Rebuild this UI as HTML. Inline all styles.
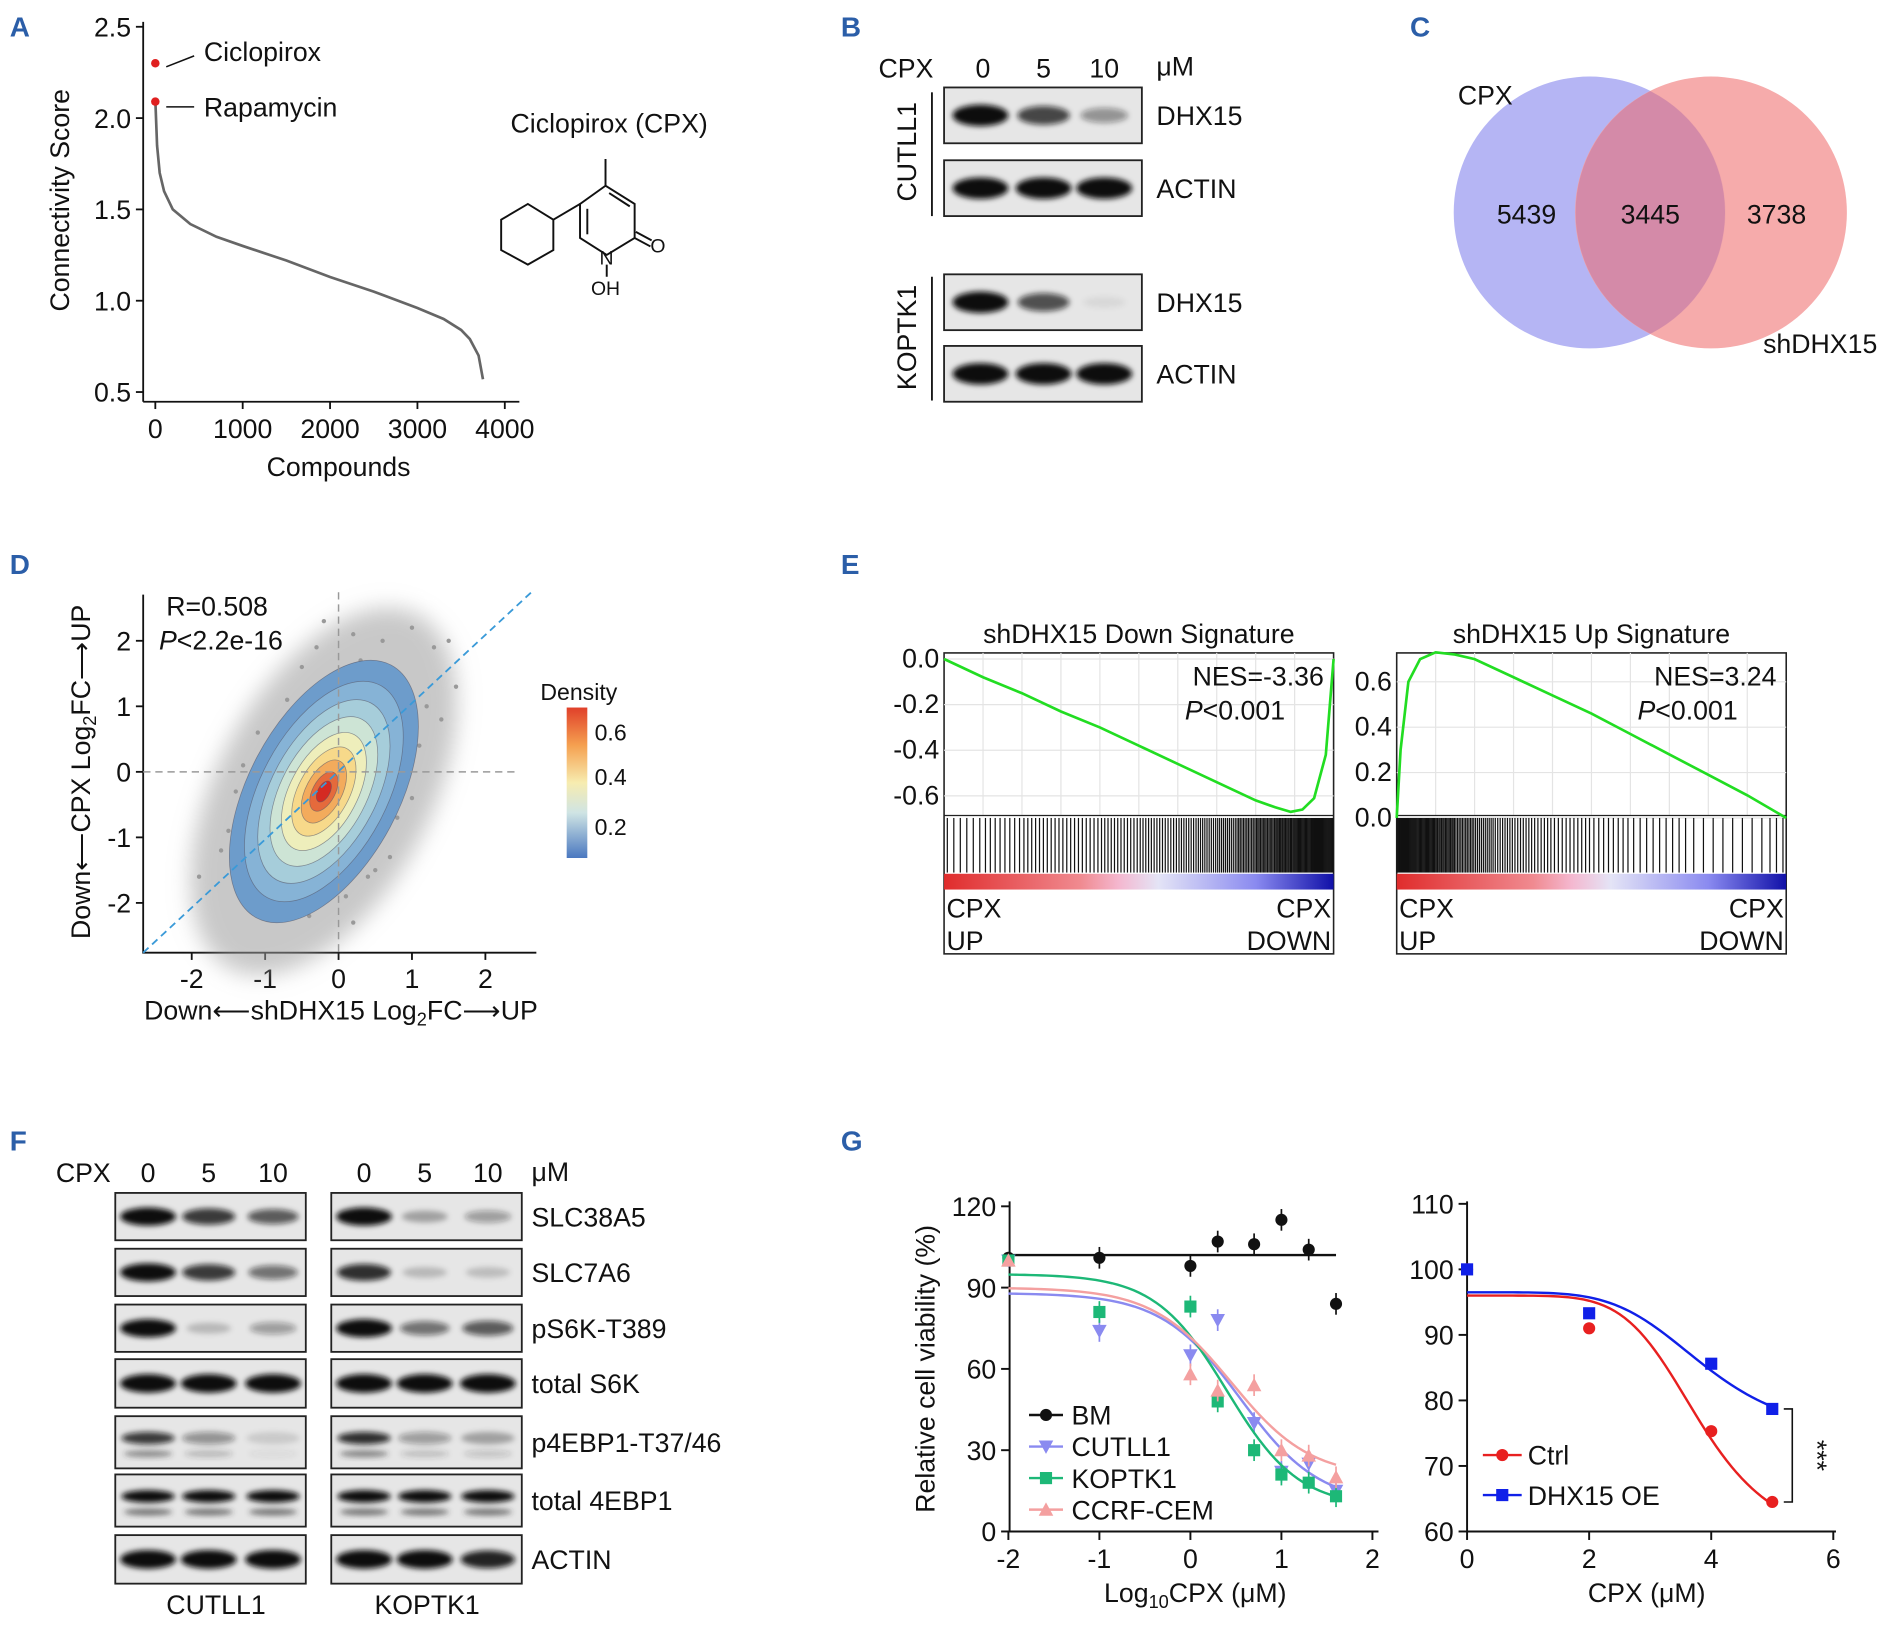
<!DOCTYPE html>
<html><head><meta charset="utf-8"><style>
html,body{margin:0;padding:0;background:#fff;width:1893px;height:1625px;overflow:hidden}
svg{display:block;font-family:"Liberation Sans",Arial,sans-serif}
.t{font-size:22px;fill:#111}
.pl{font-size:23px;font-weight:bold;fill:#2b5ea8}
</style></head><body>
<svg id="fig" width="1893" height="1625" viewBox="0 0 1560 1339" xmlns="http://www.w3.org/2000/svg">
<defs>
<filter id="blur" x="-50%" y="-50%" width="200%" height="200%"><feGaussianBlur stdDeviation="2.2"/></filter>
<filter id="blur2" x="-50%" y="-50%" width="200%" height="200%"><feGaussianBlur stdDeviation="9"/></filter>
<linearGradient id="rank" x1="0" x2="1"><stop offset="0" stop-color="#e02c2c"/><stop offset=".35" stop-color="#f08a90"/><stop offset=".45" stop-color="#f4b8d0"/><stop offset=".55" stop-color="#e4e4f6"/><stop offset=".8" stop-color="#8a8af0"/><stop offset="1" stop-color="#1010a8"/></linearGradient>
<linearGradient id="dens" x1="0" y1="0" x2="0" y2="1"><stop offset="0" stop-color="#e0402a"/><stop offset=".25" stop-color="#f5a050"/><stop offset=".5" stop-color="#f7ecb0"/><stop offset=".7" stop-color="#cfe4e4"/><stop offset="1" stop-color="#4a78c0"/></linearGradient>
</defs>

<!-- panel letters -->
<text class="pl" x="8" y="30">A</text>
<text class="pl" x="693" y="30">B</text>
<text class="pl" x="1162" y="30">C</text>
<text class="pl" x="8" y="473">D</text>
<text class="pl" x="693" y="473">E</text>
<text class="pl" x="8" y="948">F</text>
<text class="pl" x="693" y="948">G</text>

<!-- Panel A static -->
<g id="pa"></g>
<text class="t" x="57" y="165" transform="rotate(-90 57 165)" text-anchor="middle">Connectivity Score</text>
<text class="t" x="279" y="392" text-anchor="middle">Compounds</text>
<text class="t" x="168" y="50">Ciclopirox</text>
<text class="t" x="168" y="96">Rapamycin</text>
<line x1="137" y1="55" x2="160" y2="46" stroke="#111" stroke-width="1.3"/>
<line x1="137" y1="88" x2="160" y2="88" stroke="#111" stroke-width="1.3"/>
<text class="t" x="502" y="109" text-anchor="middle">Ciclopirox (CPX)</text>
<g stroke="#111" stroke-width="1.6" fill="none">
<polyline points="499,131 499,153 523,168 523,196 500,210 478,196 478,168 499,153"/>
<line x1="484" y1="172" x2="484" y2="193"/><line x1="502" y1="159" x2="519" y2="170"/>
<line x1="523" y1="196" x2="536" y2="203"/><line x1="524" y1="191" x2="537" y2="198"/>
<line x1="500" y1="218" x2="500" y2="228"/>
<line x1="478" y1="168" x2="456" y2="181"/>
<polygon points="456,181 456,206 435,218 413,206 413,181 435,168"/>
</g>
<text x="536" y="208" font-size="16" fill="#111">O</text>
<text x="494" y="218" font-size="16" fill="#111">N</text>
<text x="487" y="243" font-size="16" fill="#111">OH</text>

<!-- Panel B static -->
<text class="t" x="724" y="64">CPX</text>
<text class="t" x="810" y="64" text-anchor="middle">0</text>
<text class="t" x="860" y="64" text-anchor="middle">5</text>
<text class="t" x="910" y="64" text-anchor="middle">10</text>
<text class="t" x="953" y="62">μM</text>
<line x1="768" y1="76" x2="768" y2="178" stroke="#111" stroke-width="1.5"/>
<line x1="768" y1="228" x2="768" y2="330" stroke="#111" stroke-width="1.5"/>
<text class="t" x="755" y="125" transform="rotate(-90 755 125)" text-anchor="middle">CUTLL1</text>
<text class="t" x="755" y="278" transform="rotate(-90 755 278)" text-anchor="middle">KOPTK1</text>
<g id="pb"></g>

<!-- Panel C -->
<g>
<circle cx="1310" cy="175" r="112" fill="#b5b5f4"/>
<circle cx="1410" cy="175" r="112" fill="#f5a2a2" fill-opacity="0.9"/>
<path d="M1360,75 A112,112 0 0 1 1360,275 A112,112 0 0 1 1360,75Z" fill="#d48aa8"/>
<text class="t" x="1258" y="184" text-anchor="middle">5439</text>
<text class="t" x="1360" y="184" text-anchor="middle">3445</text>
<text class="t" x="1464" y="184" text-anchor="middle">3738</text>
<text class="t" x="1224" y="86" text-anchor="middle">CPX</text>
<text class="t" x="1500" y="291" text-anchor="middle">shDHX15</text>
</g>

<!-- Panel D -->
<g id="pd"></g>
<text class="t" x="137" y="507">R=0.508</text>
<text class="t" x="131" y="535"><tspan font-style="italic">P</tspan>&lt;2.2e-16</text>
<text class="t" x="74" y="636" transform="rotate(-90 74 636)" text-anchor="middle">Down⟵CPX Log<tspan font-size="15" dy="5">2</tspan><tspan dy="-5">FC⟶UP</tspan></text>
<text class="t" x="281" y="840" text-anchor="middle">Down⟵shDHX15 Log<tspan font-size="15" dy="5">2</tspan><tspan dy="-5">FC⟶UP</tspan></text>
<text x="477" y="577" font-size="19" fill="#111" text-anchor="middle">Density</text>
<rect x="467" y="583" width="17" height="124" fill="url(#dens)"/>
<text x="490" y="610" font-size="19" fill="#111">0.6</text>
<text x="490" y="647" font-size="19" fill="#111">0.4</text>
<text x="490" y="688" font-size="19" fill="#111">0.2</text>

<!-- Panel E -->
<g id="pe"></g>

<!-- Panel F -->
<text class="t" x="46" y="974">CPX</text>
<g id="pf"></g>
<text class="t" x="178" y="1330" text-anchor="middle">CUTLL1</text>
<text class="t" x="352" y="1330" text-anchor="middle">KOPTK1</text>
<text class="t" x="438" y="973">μM</text>

<!-- Panel G -->
<g id="pg1"></g>
<g id="pg2"></g>
<text class="t" x="770" y="1128" transform="rotate(-90 770 1128)" text-anchor="middle">Relative cell viability (%)</text>
<text class="t" x="985" y="1320" text-anchor="middle">Log<tspan font-size="15" dy="5">10</tspan><tspan dy="-5">CPX (μM)</tspan></text>
<text class="t" x="1357" y="1320" text-anchor="middle">CPX (μM)</text>
</svg>
<script>
const NS='http://www.w3.org/2000/svg';
function mk(parent,tag,attrs,name,inter){const e=document.createElementNS(NS,tag);for(const k in attrs)e.setAttribute(k,attrs[k]);


parent.appendChild(e);return e;}
function txt(parent,x,y,s,name,anchor,size){const e=mk(parent,'text',{x:x,y:y,'font-size':size||22,fill:'#111','text-anchor':anchor||'middle'},name,false);e.textContent=s;return e;}

// ===== Panel A data =====
const aRanks=[0,20,50,100,200,400,700,1000,1500,2000,2500,3000,3300,3500,3600,3700,3750];
const aScores=[2.1,1.85,1.7,1.6,1.5,1.42,1.35,1.3,1.22,1.13,1.05,0.96,0.9,0.84,0.79,0.7,0.57];
const aHits=[['ciclopirox',2.3],['rapamycin',2.09]];
const aYTicks=[0.5,1.0,1.5,2.0,2.5];
const aXTicks=[0,1000,2000,3000,4000];
(function(){const g=document.getElementById('pa');
const X=v=>128+v*(288/4000), Y=v=>323-(v-0.5)*150.5;
mk(g,'line',{x1:118,y1:18,x2:118,y2:331,stroke:'#111','stroke-width':1.5},'a-y-axis',false);
mk(g,'line',{x1:118,y1:331,x2:428,y2:331,stroke:'#111','stroke-width':1.5},'a-x-axis',false);
aYTicks.forEach(v=>{mk(g,'line',{x1:112,y1:Y(v),x2:118,y2:Y(v),stroke:'#111','stroke-width':1.5},'a-y-tick',false);txt(g,108,Y(v)+8,v.toFixed(1),'a-y-tick-label','end');});
aXTicks.forEach(v=>{mk(g,'line',{x1:X(v),y1:331,x2:X(v),y2:337,stroke:'#111','stroke-width':1.5},'a-x-tick',false);txt(g,X(v),361,String(v),'a-x-tick-label');});
mk(g,'polyline',{points:aRanks.map((r,i)=>X(r)+','+Y(aScores[i])).join(' '),fill:'none',stroke:'#666','stroke-width':2.2},'a-score-curve',false);
aHits.forEach(h=>mk(g,'circle',{cx:X(0),cy:Y(h[1]),r:3.5,fill:'#e02020'},'a-hit-'+h[0],false));
})();

// ===== Blot helper =====
function blot(g,x,w,y,h,lanes,ints,name,doublet){
 mk(g,'rect',{x:x,y:y,width:w,height:h,fill:'#e6e6e6',stroke:'#222','stroke-width':1.5},name+'-membrane',false);
 lanes.forEach((cx,i)=>{const v=ints[i];if(v<=0.02)return;
  if(doublet){
   mk(g,'ellipse',{cx:cx,cy:y+h*0.42,rx:22,ry:h*0.12,fill:'#111','fill-opacity':v,filter:'url(#blur)'},name+'-band',false);
   mk(g,'ellipse',{cx:cx,cy:y+h*0.72,rx:20,ry:h*0.07,fill:'#333','fill-opacity':v*0.6,filter:'url(#blur)'},name+'-band-lower',false);
  } else mk(g,'ellipse',{cx:cx,cy:y+h/2,rx:23*(0.75+0.25*v),ry:h*0.16*(0.6+0.6*v),fill:'#111','fill-opacity':Math.min(1,v),filter:'url(#blur)'},name+'-band',false);
 });
}
// ===== Panel B =====
const bRows=['DHX15','ACTIN','DHX15','ACTIN'];
const bTop=[72,132,226,285];
const bInt=[[1,0.75,0.4],[1,1,1],[1,0.7,0.06],[1,1,1]];
(function(){const g=document.getElementById('pb');
bRows.forEach((r,i)=>{blot(g,778,163,bTop[i],46,[808,860,910],bInt[i],'b-'+r.toLowerCase()+'-'+i);
 txt(g,953,bTop[i]+31,r,'b-row-label','start');});})();

// ===== Panel F =====
const fRows=['SLC38A5','SLC7A6','pS6K-T389','total S6K','p4EBP1-T37/46','total 4EBP1','ACTIN'];
const fTop=[983,1029,1075,1120,1167,1215,1265];
const fH=[39,39,39,40,43,43,40];
const fLeft=[[1,0.8,0.65],[1,0.8,0.55],[1,0.2,0.35],[1,1,1],[0.8,0.4,0.12],[1,1,1],[1,1,1]];
const fRight=[[1,0.3,0.35],[0.85,0.2,0.18],[1,0.55,0.65],[1,1,1],[0.85,0.35,0.3],[1,1,1],[1,1,0.9]];
const fDoses=['0','5','10'];
(function(){const g=document.getElementById('pf');
const L=[122,172,225],R=[300,350,402];
fDoses.forEach((d,i)=>{txt(g,L[i],974,d,'f-dose-left');txt(g,R[i],974,d,'f-dose-right');});
fRows.forEach((r,i)=>{const db=r==='total 4EBP1'||r.startsWith('p4EBP1');
 blot(g,95,157,fTop[i],fH[i],L,fLeft[i],'f-cutll1-'+i,db);
 blot(g,273,157,fTop[i],fH[i],R,fRight[i],'f-koptk1-'+i,db);
 txt(g,438,fTop[i]+fH[i]/2+8,r,'f-row-label','start');});})();

// ===== Panel D =====
const dPtsX=[-1.9,-1.6,-1.4,-1.2,-1.1,-0.9,-0.8,-0.7,-0.6,-0.5,-0.4,-0.3,-0.2,0,0.1,0.2,0.3,0.4,0.5,0.6,0.7,0.8,0.9,1.0,1.2,1.4,1.6,-1.3,-1.0,-0.8,-0.6,0.2,0.5,0.8,1.1,-0.5,0.0,0.4,0.9,1.5,-1.5,-0.9,0.7,1.3,-0.2,0.3,0.6,-0.7,1.0,-1.1];
const dPtsY=[-1.6,-1.2,-0.3,-1.5,0.6,-2.0,0.2,1.1,-1.8,1.6,-2.2,1.9,2.3,1.5,-1.9,2.1,1.7,-1.6,1.2,2.0,-1.3,1.4,0.9,2.2,1.0,0.8,1.3,0.1,-0.5,-1.2,0.9,-2.3,-1.5,-0.7,0.4,-0.9,-1.4,-0.8,-0.2,2.0,-0.9,0.4,0.2,1.9,0.6,-0.3,0.5,-0.5,-0.4,-1.0];
const dTicks=[-2,-1,0,1,2];
const dLevels=[1,0.84,0.7,0.57,0.45,0.34,0.24,0.15,0.08];
const dColors=['#6d9ccb','#86b3d6','#a6cdda','#cde4d5','#eeeebb','#f7d98a','#f3ab5c','#e56a3c','#d52a22'];
(function(){const g=document.getElementById('pd');
const X=v=>279+v*60.5, Y=v=>636-v*54;
mk(g,'polyline',{points:'118,490 118,785 442,785',fill:'none',stroke:'#111','stroke-width':1.5},'d-axes',false);
dTicks.forEach(v=>{mk(g,'line',{x1:X(v),y1:785,x2:X(v),y2:791,stroke:'#111','stroke-width':1.5},'d-x-tick',false);txt(g,X(v),814,String(v),'d-x-tick-label');
 mk(g,'line',{x1:112,y1:Y(v),x2:118,y2:Y(v),stroke:'#111','stroke-width':1.5},'d-y-tick',false);txt(g,108,Y(v)+8,String(v),'d-y-tick-label','end');});
const cx=X(-0.2),cy=Y(-0.3);
mk(g,'ellipse',{cx:cx,cy:cy,rx:165,ry:88,fill:'#9a9a9a','fill-opacity':0.55,transform:`rotate(-62 ${cx} ${cy})`,filter:'url(#blur2)'},'d-point-cloud',false);
dPtsX.forEach((x,i)=>mk(g,'circle',{cx:X(x),cy:Y(dPtsY[i]),r:1.8,fill:'#999'},'d-point',false));
dLevels.forEach((s,i)=>mk(g,'ellipse',{cx:cx,cy:cy,rx:118*s,ry:62*s,fill:dColors[i],stroke:'#556','stroke-width':0.6,'stroke-opacity':0.6,transform:`rotate(-62 ${cx} ${cy})`},'d-density-contour',false));
mk(g,'line',{x1:X(0),y1:488,x2:X(0),y2:785,stroke:'#999','stroke-dasharray':'6,4','stroke-width':1.2},'d-x-zero-line',false);
mk(g,'line',{x1:118,y1:Y(0),x2:425,y2:Y(0),stroke:'#999','stroke-dasharray':'6,4','stroke-width':1.2},'d-y-zero-line',false);
mk(g,'line',{x1:118,y1:785,x2:440,y2:486,stroke:'#3a9ad8','stroke-dasharray':'6,4','stroke-width':1.5},'d-identity-line',false);
})();

// ===== Panel E =====
const eDownX=[0,0.05,0.1,0.2,0.3,0.4,0.5,0.6,0.7,0.75,0.8,0.85,0.89,0.92,0.95,0.98,1];
const eDownY=[0,-0.04,-0.08,-0.15,-0.23,-0.3,-0.38,-0.46,-0.54,-0.58,-0.62,-0.65,-0.67,-0.66,-0.61,-0.42,0];
const eUpX=[0,0.01,0.03,0.06,0.1,0.15,0.2,0.3,0.4,0.5,0.6,0.7,0.8,0.9,1];
const eUpY=[0,0.3,0.6,0.7,0.73,0.72,0.7,0.62,0.54,0.46,0.37,0.28,0.19,0.1,0];
const eDownHits=[3,3,4,4,5,5,5,5,6,6,7,7,8,9,10,12,14,16,18,20];
const eUpHits=[20,18,15,12,10,8,7,6,5,5,4,4,3,3,3,2,2,2,2,3];
const eDownTicks=[0,-0.2,-0.4,-0.6];
const eUpTicks=[0,0.2,0.4,0.6];
function gsea(g,x0,x1,topY,zeroY,per02,xs,ys,hits,ticks,title,nes,key){
 const w=x1-x0, X=f=>x0+f*w, Y=v=>zeroY-v/0.2*per02;
 mk(g,'rect',{x:x0,y:topY,width:w,height:786-topY,fill:'none',stroke:'#222','stroke-width':1.3},key+'-frame',false);
 for(let i=1;i<10;i++)mk(g,'line',{x1:X(i/10),y1:topY,x2:X(i/10),y2:672,stroke:'#e4e4e4'},key+'-grid-v',false);
 ticks.forEach(v=>{mk(g,'line',{x1:x0,y1:Y(v),x2:x1,y2:Y(v),stroke:'#e4e4e4'},key+'-grid-h',false);
  txt(g,x0-4,Y(v)+7,v.toFixed(1),key+'-y-tick-label','end');});
 mk(g,'line',{x1:x0,y1:672,x2:x1,y2:672,stroke:'#222','stroke-width':1},key+'-plot-divider',false);
 mk(g,'polyline',{points:xs.map((f,i)=>X(f)+','+Y(ys[i])).join(' '),fill:'none',stroke:'#22dd22','stroke-width':2.2},key+'-es-curve',false);
 const n=hits.length;
 hits.forEach((c,b)=>{for(let j=0;j<c;j++){const f=(b+(j+0.5)/c)/n;
  mk(g,'line',{x1:X(f),y1:674,x2:X(f),y2:719,stroke:'#111','stroke-width':1},key+'-hit-line',false);}});
 mk(g,'rect',{x:x0,y:720,width:w,height:13,fill:'url(#rank)'},key+'-rank-colorbar',false);
 txt(g,(x0+x1)/2,530,title,key+'-title');
 txt(g,x1-8,565,nes,key+'-nes','end');
 const p=txt(g,x1-40,593,'',key+'-p','end');p.innerHTML='<tspan font-style="italic">P</tspan>&lt;0.001';
 txt(g,x0+2,756,'CPX',key+'-left-label','start');txt(g,x0+2,783,'UP',key+'-left-label-2','start');
 txt(g,x1-2,756,'CPX',key+'-right-label','end');txt(g,x1-2,783,'DOWN',key+'-right-label-2','end');
}
(function(){const g=document.getElementById('pe');
gsea(g,778,1099,538,543,37.6,eDownX,eDownY,eDownHits,eDownTicks,'shDHX15 Down Signature','NES=-3.36','e-down');
gsea(g,1151,1472,538,674,37.4,eUpX,eUpY,eUpHits,eUpTicks,'shDHX15 Up Signature','NES=3.24','e-up');
})();

// ===== Panel G left =====
const gDoses=[-2,-1,0,0.3,0.7,1,1.3,1.6];
const gBM=[101,101,98,107,106,115,104,84];
const gCUT=[100,74,65,78,40,22,25,15];
const gKOP=[100,81,83,48,30,21,18,13];
const gCEM=[100,null,58,52,54,30,28,20];
const gFit={BM:[102,102,0,1],CUTLL1:[88,10,0.55,1.0],KOPTK1:[95,9,0.4,1.1],CEM:[90,20,0.45,1.0]};
const gXTicks=[-2,-1,0,1,2];
const gYTicks=[0,30,60,90,120];
function marker(g,shape,x,y,c,name){
 if(shape==='circle')mk(g,'circle',{cx:x,cy:y,r:5,fill:c},name,false);
 else if(shape==='square')mk(g,'rect',{x:x-5,y:y-5,width:10,height:10,fill:c},name,false);
 else if(shape==='down')mk(g,'polygon',{points:`${x-6},${y-5} ${x+6},${y-5} ${x},${y+6}`,fill:c},name,false);
 else mk(g,'polygon',{points:`${x-6},${y+5} ${x+6},${y+5} ${x},${y-6}`,fill:c},name,false);
}
(function(){const g=document.getElementById('pg1');
const X=v=>981+v*75, Y=v=>1262-v*2.233;
mk(g,'polyline',{points:'832,990 832,1262 1136,1262',fill:'none',stroke:'#111','stroke-width':1.6},'g1-axes',false);
gXTicks.forEach(v=>{mk(g,'line',{x1:X(v),y1:1262,x2:X(v),y2:1269,stroke:'#111','stroke-width':1.6},'g1-x-tick',false);txt(g,X(v),1292,String(v),'g1-x-tick-label');});
gYTicks.forEach(v=>{mk(g,'line',{x1:825,y1:Y(v),x2:832,y2:Y(v),stroke:'#111','stroke-width':1.6},'g1-y-tick',false);txt(g,821,Y(v)+8,String(v),'g1-y-tick-label','end');});
const series=[['BM',gBM,'#111','circle',gFit.BM],['CUTLL1',gCUT,'#8a8af0','down',gFit.CUTLL1],['KOPTK1',gKOP,'#1db877','square',gFit.KOPTK1],['CCRF-CEM',gCEM,'#f4a0a0','up',gFit.CEM]];
series.forEach(([n,vals,c,sh,f],si)=>{
 const pts=[];for(let i=0;i<=60;i++){const x=-2+3.6*i/60;const y=f[1]+(f[0]-f[1])/(1+Math.pow(10,(x-f[2])*f[3]));pts.push(X(x)+','+Y(y));}
 mk(g,'polyline',{points:pts.join(' '),fill:'none',stroke:c,'stroke-width':2},'g1-fit-'+n,false);
 vals.forEach((v,i)=>{if(v==null)return;
  if(i>0){mk(g,'line',{x1:X(gDoses[i]),y1:Y(v-4),x2:X(gDoses[i]),y2:Y(v+4),stroke:c,'stroke-width':1.4},'g1-errorbar-'+n,false);}
  marker(g,sh,X(gDoses[i]),Y(v),c,'g1-point-'+n);});
 const ly=1166+si*26;
 mk(g,'line',{x1:848,y1:ly,x2:876,y2:ly,stroke:c,'stroke-width':2},'g1-legend-line-'+n,false);
 marker(g,sh,862,ly,c,'g1-legend-marker-'+n);
 txt(g,883,ly+8,n,'g1-legend-label','start');
});})();

// ===== Panel G right =====
const g2Doses=[0,2,4,5];
const g2Ctrl=[100,91,75.3,64.5];
const g2OE=[100,93.3,85.6,78.7];
const g2FitCtrl=[96,58,3.8,6];
const g2FitOE=[96.5,74,3.9,5];
const g2XTicks=[0,2,4,6];
const g2YTicks=[60,70,80,90,100,110];
(function(){const g=document.getElementById('pg2');
const X=v=>1209+v*50.3, Y=v=>1262-(v-60)*5.4;
mk(g,'polyline',{points:'1209,990 1209,1262 1513,1262',fill:'none',stroke:'#111','stroke-width':1.6},'g2-axes',false);
g2XTicks.forEach(v=>{mk(g,'line',{x1:X(v),y1:1262,x2:X(v),y2:1269,stroke:'#111','stroke-width':1.6},'g2-x-tick',false);txt(g,X(v),1292,String(v),'g2-x-tick-label');});
g2YTicks.forEach(v=>{mk(g,'line',{x1:1202,y1:Y(v),x2:1209,y2:Y(v),stroke:'#111','stroke-width':1.6},'g2-y-tick',false);txt(g,1198,Y(v)+8,String(v),'g2-y-tick-label','end');});
[['Ctrl',g2Ctrl,g2FitCtrl,'#e82020','circle'],['DHX15 OE',g2OE,g2FitOE,'#1020e8','square']].forEach(([n,vals,f,c,sh],si)=>{
 const pts=[];for(let i=0;i<=60;i++){const x=5*i/60;const y=x===0?f[0]:f[1]+(f[0]-f[1])/(1+Math.pow(x/f[2],f[3]));pts.push(X(x)+','+Y(y));}
 mk(g,'polyline',{points:pts.join(' '),fill:'none',stroke:c,'stroke-width':2},'g2-fit-'+n,false);
 vals.forEach((v,i)=>marker(g,sh,X(g2Doses[i]),Y(v),c,'g2-point-'+n));
 const ly=1199+si*33;
 mk(g,'line',{x1:1222,y1:ly,x2:1254,y2:ly,stroke:c,'stroke-width':2},'g2-legend-line-'+n,false);
 marker(g,sh,1238,ly,c,'g2-legend-marker-'+n);
 txt(g,1259,ly+8,n,'g2-legend-label','start');
});
mk(g,'polyline',{points:`1470,${Y(78.7)} 1477,${Y(78.7)} 1477,${Y(64.5)} 1470,${Y(64.5)}`,fill:'none',stroke:'#111','stroke-width':1.3},'g2-significance-bracket',false);
const s=txt(g,1490,Y(71.6),'***','g2-significance-stars');s.setAttribute('transform',`rotate(90 1490 ${Y(71.6)})`);
})();
</script>
</body></html>
